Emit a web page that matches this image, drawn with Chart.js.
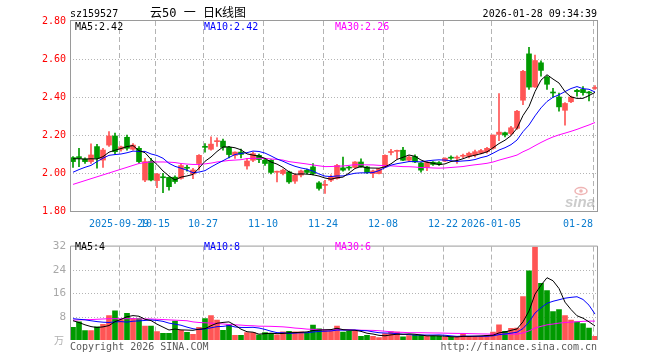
<!DOCTYPE html>
<html>
<head>
<meta charset="utf-8">
<script src="https://cdn.jsdelivr.net/npm/chart.js@4.4.1/dist/chart.umd.min.js"></script>
<style>
  html, body { margin: 0; padding: 0; background: #ffffff; }
  body { width: 660px; height: 360px; position: relative; overflow: hidden; }
  #c1 { position: absolute; left: 0; top: 0; }
  #c2 { position: absolute; left: 0; top: 236px; }
</style>
</head>
<body>
<canvas id="c1" width="660" height="236"></canvas>
<canvas id="c2" width="660" height="124"></canvas>
<script>
// ---------------- data ----------------
const dates = [
  '2025-09-17','2025-09-18','2025-09-19','2025-09-22','2025-09-23','2025-09-24','2025-09-25','2025-09-26','2025-09-29','2025-09-30',
  '2025-10-09','2025-10-10','2025-10-13','2025-10-14','2025-10-15','2025-10-16','2025-10-17','2025-10-20','2025-10-21','2025-10-22',
  '2025-10-23','2025-10-24','2025-10-27','2025-10-28','2025-10-29','2025-10-30','2025-10-31',
  '2025-11-03','2025-11-04','2025-11-05','2025-11-06','2025-11-07','2025-11-10','2025-11-11','2025-11-12','2025-11-13','2025-11-14',
  '2025-11-17','2025-11-18','2025-11-19','2025-11-20','2025-11-21','2025-11-24','2025-11-25','2025-11-26','2025-11-27','2025-11-28',
  '2025-12-01','2025-12-02','2025-12-03','2025-12-04','2025-12-05','2025-12-08','2025-12-09','2025-12-10','2025-12-11','2025-12-12',
  '2025-12-15','2025-12-16','2025-12-17','2025-12-18','2025-12-19','2025-12-22','2025-12-23','2025-12-24','2025-12-25','2025-12-26',
  '2025-12-29','2025-12-30','2025-12-31',
  '2026-01-05','2026-01-06','2026-01-07','2026-01-08','2026-01-09','2026-01-12','2026-01-13','2026-01-14','2026-01-15','2026-01-16',
  '2026-01-19','2026-01-20','2026-01-21','2026-01-22','2026-01-23','2026-01-26','2026-01-27','2026-01-28'
];

const openP = [
  2.081,2.086,2.074,2.060,2.139,2.068,2.147,2.195,2.125,2.188,
  2.125,2.130,1.963,2.060,1.960,1.978,1.977,1.978,1.972,2.030,
  1.995,2.050,2.140,2.125,2.165,2.168,2.135,2.093,2.110,2.037,
  2.067,2.093,2.067,2.067,2.004,1.997,2.006,1.957,1.989,2.015,
  2.032,1.948,1.935,1.962,1.971,2.027,2.028,2.029,2.058,2.032,
  1.997,1.997,2.032,2.108,2.114,2.120,2.067,2.087,2.053,2.030,
  2.057,2.055,2.063,2.082,2.078,2.088,2.087,2.095,2.104,2.112,
  2.130,2.203,2.212,2.208,2.235,2.383,2.627,2.453,2.580,2.505,
  2.425,2.400,2.330,2.375,2.435,2.440,2.425,2.445
];
const highP = [
  2.086,2.130,2.080,2.153,2.151,2.130,2.218,2.210,2.142,2.200,
  2.155,2.139,2.077,2.077,1.998,1.998,1.980,1.985,2.047,2.040,
  2.025,2.097,2.155,2.190,2.185,2.178,2.140,2.112,2.126,2.077,
  2.110,2.100,2.075,2.070,2.010,2.020,2.010,1.995,2.015,2.020,
  2.050,1.955,1.962,1.990,2.045,2.084,2.035,2.060,2.075,2.035,
  2.015,2.025,2.095,2.125,2.120,2.135,2.090,2.095,2.055,2.060,
  2.060,2.060,2.080,2.090,2.090,2.100,2.110,2.120,2.125,2.135,
  2.200,2.418,2.215,2.245,2.330,2.540,2.662,2.620,2.590,2.510,
  2.445,2.420,2.370,2.405,2.440,2.455,2.430,2.460
];
const lowP = [
  2.030,2.033,2.050,2.050,2.025,2.030,2.140,2.100,2.115,2.120,
  2.120,2.050,1.954,1.958,1.923,1.897,1.910,1.945,1.967,2.010,
  1.970,2.015,2.110,2.120,2.140,2.120,2.080,2.077,2.080,2.020,
  2.060,2.055,2.040,1.995,1.953,1.990,1.945,1.945,1.980,1.995,
  1.990,1.910,1.893,1.955,1.968,2.010,2.015,2.025,2.030,1.998,
  1.975,1.995,2.030,2.095,2.075,2.065,2.060,2.055,2.005,2.012,
  2.040,2.040,2.060,2.072,2.050,2.080,2.080,2.085,2.100,2.105,
  2.125,2.170,2.190,2.200,2.230,2.360,2.440,2.450,2.510,2.440,
  2.400,2.325,2.252,2.370,2.405,2.410,2.380,2.440
];
const closeP = [
  2.060,2.077,2.060,2.095,2.077,2.121,2.195,2.112,2.138,2.130,
  2.147,2.060,2.060,1.963,1.995,1.975,1.928,1.955,2.039,2.025,
  2.016,2.093,2.135,2.152,2.170,2.135,2.097,2.110,2.098,2.063,
  2.102,2.071,2.050,2.003,2.008,2.015,1.953,1.989,2.011,2.003,
  1.997,1.919,1.938,1.980,2.040,2.015,2.026,2.058,2.032,2.003,
  2.011,2.023,2.093,2.112,2.118,2.067,2.084,2.058,2.015,2.057,
  2.045,2.045,2.078,2.078,2.082,2.092,2.104,2.112,2.118,2.130,
  2.200,2.215,2.200,2.238,2.325,2.535,2.452,2.592,2.540,2.467,
  2.421,2.348,2.366,2.400,2.428,2.423,2.421,2.449
];
// volume (万)
const volume = [
  4.3,6.2,3.2,3.2,4.5,5.4,8.4,10.0,7.0,9.1,
  7.3,7.3,4.8,4.8,2.9,2.3,2.3,6.5,3.3,2.6,
  1.9,4.3,7.3,8.4,6.8,3.3,5.2,1.6,1.6,2.5,
  2.5,1.8,2.5,2.3,1.8,2.8,3.0,2.8,2.8,2.5,
  5.1,3.8,3.2,3.2,4.8,2.7,3.0,3.0,1.3,1.6,
  1.3,0.8,2.2,2.9,2.7,1.1,1.5,1.6,1.6,1.3,
  1.3,1.3,0.9,0.9,0.9,2.2,1.3,1.3,1.3,1.6,
  2.7,5.2,3.0,4.0,4.1,14.9,23.7,31.8,19.4,16.9,
  9.7,10.4,8.4,6.8,6.2,5.6,4.1,1.3
];
// moving-average values at the left edge (history before the window)
const ma5Lead  = [2.075,2.075,2.073,2.075];
const ma10Lead = [2.004,2.018,2.030,2.040,2.060,2.078,2.093,2.097,2.100];
const ma30Lead = [1.940,1.950,1.960,1.970,1.980,1.990,2.000,2.010,2.020,2.030,
                  2.040,2.050,2.055,2.058,2.058,2.058,2.057,2.055,2.050,2.047,
                  2.045,2.045,2.048,2.052,2.058,2.062,2.066,2.068,2.070];
const volMa5Lead  = [6.6,6.0,5.2,4.6];
const volMa10Lead = [7.3,7.1,6.9,6.6,6.3,6.1,6.0,6.2,6.3];
const volMa30Lead = [6.8,6.9,7.0,7.0,7.1,7.2,7.3,7.3,7.3,7.3,
                     7.3,7.2,7.2,7.2,7.1,7.0,6.9,6.8,6.7,6.6,
                     6.2,6.0,5.9,5.8,5.6,5.5,5.3,5.2,5.1];

const xTickDates  = ['2025-09-29','2025-10-15','2025-10-27','2025-11-10','2025-11-24','2025-12-08','2025-12-22','2026-01-05','2026-01-28'];
const xTickLabels = ['2025-09-29','10-15','10-27','11-10','11-24','12-08','12-22','2026-01-05','01-28'];
const priceTicks  = [1.80,2.00,2.20,2.40,2.60,2.80];
const volTicks    = [0,8,16,24,32];

const titleCode = 'sz159527';
const titleName = '云50 一 日K线图';
const timeStamp = '2026-01-28 09:34:39';

// ---------------- helpers ----------------
function movingAverage(values, n, lead) {
  return values.map((v, i) => {
    if (i < n - 1) return lead[i];
    let s = 0;
    for (let k = i - n + 1; k <= i; k++) s += values[k];
    return s / n;
  });
}
const trunc = (v, d) => (Math.floor(v * Math.pow(10, d) + 1e-7) / Math.pow(10, d)).toFixed(d);

const UP = '#ff5555', DOWN = '#009a00';
const candleColors = closeP.map((c, i) => (c >= openP[i] ? UP : DOWN));

const ma5 = movingAverage(closeP, 5, ma5Lead);
const ma10 = movingAverage(closeP, 10, ma10Lead);
const ma30 = movingAverage(closeP, 30, ma30Lead);
const vma5 = movingAverage(volume, 5, volMa5Lead);
const vma10 = movingAverage(volume, 10, volMa10Lead);
const vma30 = movingAverage(volume, 30, volMa30Lead);

const MONO = '10px "DejaVu Sans Mono", "Liberation Mono", monospace';
const GRID = '#b4b4b4';
const FRAME = '#9a9a9a';

function hLine(ctx, x1, x2, y) { ctx.beginPath(); ctx.moveTo(x1, y); ctx.lineTo(x2, y); ctx.stroke(); }
function vLine(ctx, x, y1, y2) { ctx.beginPath(); ctx.moveTo(x, y1); ctx.lineTo(x, y2); ctx.stroke(); }

function drawVerticalGrid(chart) {
  const { ctx, chartArea: a, scales: { x } } = chart;
  ctx.save();
  ctx.strokeStyle = GRID; ctx.lineWidth = 1; ctx.setLineDash([5, 3]);
  xTickDates.forEach(d => {
    const px = Math.round(x.getPixelForValue(dates.indexOf(d))) - 2 + 0.5;
    vLine(ctx, px, a.top, a.bottom);
  });
  ctx.restore();
}
function drawHorizontalGrid(chart, ticks) {
  const { ctx, chartArea: a, scales: { y } } = chart;
  ctx.save();
  ctx.strokeStyle = GRID; ctx.lineWidth = 1; ctx.setLineDash([1, 2]);
  ticks.forEach(v => {
    if (v === y.min || v === y.max) return;
    const py = Math.round(y.getPixelForValue(v)) + 0.5;
    hLine(ctx, a.left, a.right, py);
  });
  ctx.restore();
}

// ---------------- price chart ----------------
const priceDecor = {
  id: 'priceDecor',
  beforeDatasetsDraw(chart) {
    drawHorizontalGrid(chart, priceTicks);
    drawVerticalGrid(chart);
  },
  afterDraw(chart) {
    const { ctx, chartArea: a, scales: { x } } = chart;
    ctx.save();
    // frame
    ctx.strokeStyle = FRAME; ctx.lineWidth = 1; ctx.setLineDash([]);
    ctx.strokeRect(a.left + 0.5, a.top - 0.5, a.right - a.left - 1, a.bottom - a.top + 1);
    // header
    ctx.font = MONO; ctx.fillStyle = '#000'; ctx.textAlign = 'left'; ctx.textBaseline = 'alphabetic';
    ctx.fillText(titleCode, 70, 16.5);
    ctx.textAlign = 'right';
    ctx.fillText(timeStamp, 597, 16.5);
    ctx.textAlign = 'left';
    ctx.font = '12px "DejaVu Sans Mono", "Noto Sans CJK SC", sans-serif';
    ctx.fillText(titleName, 150, 17);
    // MA legend
    ctx.font = MONO;
    ctx.fillStyle = '#000'; ctx.fillText('MA5:' + trunc(ma5[ma5.length - 1], 2), 75, 29.5);
    ctx.fillStyle = '#0000ff'; ctx.fillText('MA10:' + trunc(ma10[ma10.length - 1], 2), 204, 29.5);
    ctx.fillStyle = '#ff00ff'; ctx.fillText('MA30:' + trunc(ma30[ma30.length - 1], 2), 335, 29.5);
    // x labels
    ctx.fillStyle = '#0a7ccf'; ctx.textAlign = 'center';
    xTickDates.forEach((d, k) => {
      const label = xTickLabels[k];
      let px = x.getPixelForValue(dates.indexOf(d)) - 2;
      const w = ctx.measureText(label).width;
      if (px + w / 2 > a.right - 5) px = a.right - 5 - w / 2;
      ctx.fillText(label, px, 227);
    });
    // sina watermark
    ctx.globalAlpha = 0.5;
    ctx.strokeStyle = '#e06a6a'; ctx.lineWidth = 1.5;
    ctx.beginPath(); ctx.ellipse(581, 191, 6, 3.5, 0, 0, Math.PI * 2); ctx.stroke();
    ctx.fillStyle = '#e06a6a';
    ctx.beginPath(); ctx.arc(581, 191, 1.8, 0, Math.PI * 2); ctx.fill();
    ctx.fillStyle = '#999';
    ctx.font = 'italic bold 15px "Liberation Sans", sans-serif';
    ctx.textAlign = 'left';
    ctx.fillText('sina', 565, 207);
    ctx.restore();
  }
};

new Chart(document.getElementById('c1'), {
  type: 'bar',
  data: {
    labels: dates,
    datasets: [
      { type: 'line', data: ma5, borderColor: '#000000', borderWidth: 1, pointRadius: 0, tension: 0, order: 0 },
      { type: 'line', data: ma10, borderColor: '#0000ff', borderWidth: 1, pointRadius: 0, tension: 0, order: 0 },
      { type: 'line', data: ma30, borderColor: '#ff00ff', borderWidth: 1, pointRadius: 0, tension: 0, order: 0 },
      { type: 'bar', data: openP.map((o, i) => [o, closeP[i]]), backgroundColor: candleColors,
        barThickness: 5, minBarLength: 1, grouped: false, order: 1 },
      { type: 'bar', data: lowP.map((l, i) => [l, highP[i]]), backgroundColor: candleColors,
        barThickness: 1, grouped: false, order: 2 }
    ]
  },
  options: {
    responsive: false, animation: false, devicePixelRatio: 1, events: [],
    layout: { padding: { left: 0, right: 62, top: 21, bottom: 25 } },
    plugins: { legend: { display: false }, tooltip: { enabled: false } },
    scales: {
      x: { type: 'category', offset: true, display: false },
      y: {
        type: 'linear', min: 1.8, max: 2.8, position: 'left',
        afterBuildTicks: s => { s.ticks = priceTicks.map(v => ({ value: v })); },
        afterFit: s => { s.width = 70; },
        grid: { display: false, drawTicks: false },
        border: { display: false },
        ticks: { color: '#ff0000', padding: 4, font: { family: '"DejaVu Sans Mono", monospace', size: 10 },
                 callback: v => Number(v).toFixed(2) }
      }
    }
  },
  plugins: [priceDecor]
});

// ---------------- volume chart ----------------
const volDecor = {
  id: 'volDecor',
  beforeDatasetsDraw(chart) {
    drawHorizontalGrid(chart, volTicks);
    drawVerticalGrid(chart);
  },
  afterDraw(chart) {
    const { ctx, chartArea: a } = chart;
    ctx.save();
    ctx.strokeStyle = FRAME; ctx.lineWidth = 1;
    ctx.beginPath();
    ctx.moveTo(a.left + 0.5, a.bottom); ctx.lineTo(a.left + 0.5, a.top - 0.5);
    ctx.lineTo(a.right - 0.5, a.top - 0.5); ctx.lineTo(a.right - 0.5, a.bottom);
    ctx.stroke();
    ctx.font = MONO; ctx.textAlign = 'left'; ctx.textBaseline = 'alphabetic';
    ctx.fillStyle = '#000'; ctx.fillText('MA5:' + Math.floor(vma5[vma5.length - 1]), 75, 13.5);
    ctx.fillStyle = '#0000ff'; ctx.fillText('MA10:' + Math.floor(vma10[vma10.length - 1]), 204, 13.5);
    ctx.fillStyle = '#ff00ff'; ctx.fillText('MA30:' + Math.floor(vma30[vma30.length - 1]), 335, 13.5);
    ctx.fillStyle = '#5a5a5a';
    ctx.fillText('Copyright 2026 SINA.COM', 70, 113.5);
    ctx.textAlign = 'right';
    ctx.fillText('http://finance.sina.com.cn', 597, 113.5);
    ctx.fillStyle = '#b0b0b0';
    ctx.font = '10px "Noto Sans CJK SC", sans-serif';
    ctx.fillText('万', 64, 108);
    ctx.restore();
  }
};

new Chart(document.getElementById('c2'), {
  type: 'bar',
  data: {
    labels: dates,
    datasets: [
      { type: 'line', data: vma5, borderColor: '#000000', borderWidth: 1, pointRadius: 0, tension: 0, order: 0 },
      { type: 'line', data: vma10, borderColor: '#0000ff', borderWidth: 1, pointRadius: 0, tension: 0, order: 0 },
      { type: 'line', data: vma30, borderColor: '#ff00ff', borderWidth: 1, pointRadius: 0, tension: 0, order: 0 },
      { type: 'bar', data: volume, backgroundColor: candleColors, barThickness: 5, order: 1 }
    ]
  },
  options: {
    responsive: false, animation: false, devicePixelRatio: 1, events: [],
    layout: { padding: { left: 0, right: 62, top: 4, bottom: 20 } },
    plugins: { legend: { display: false }, tooltip: { enabled: false } },
    scales: {
      x: { type: 'category', offset: true, display: false },
      y: {
        type: 'linear', min: 0, max: 32, position: 'left',
        afterBuildTicks: s => { s.ticks = volTicks.map(v => ({ value: v })); },
        afterFit: s => { s.width = 70; },
        grid: { display: false, drawTicks: false },
        border: { display: false },
        ticks: { color: '#a8a8a8', padding: 4, font: { family: '"DejaVu Sans Mono", monospace', size: 11 },
                 callback: v => (v === 0 ? '' : String(v)) }
      }
    }
  },
  plugins: [volDecor]
});
</script>
</body>
</html>
